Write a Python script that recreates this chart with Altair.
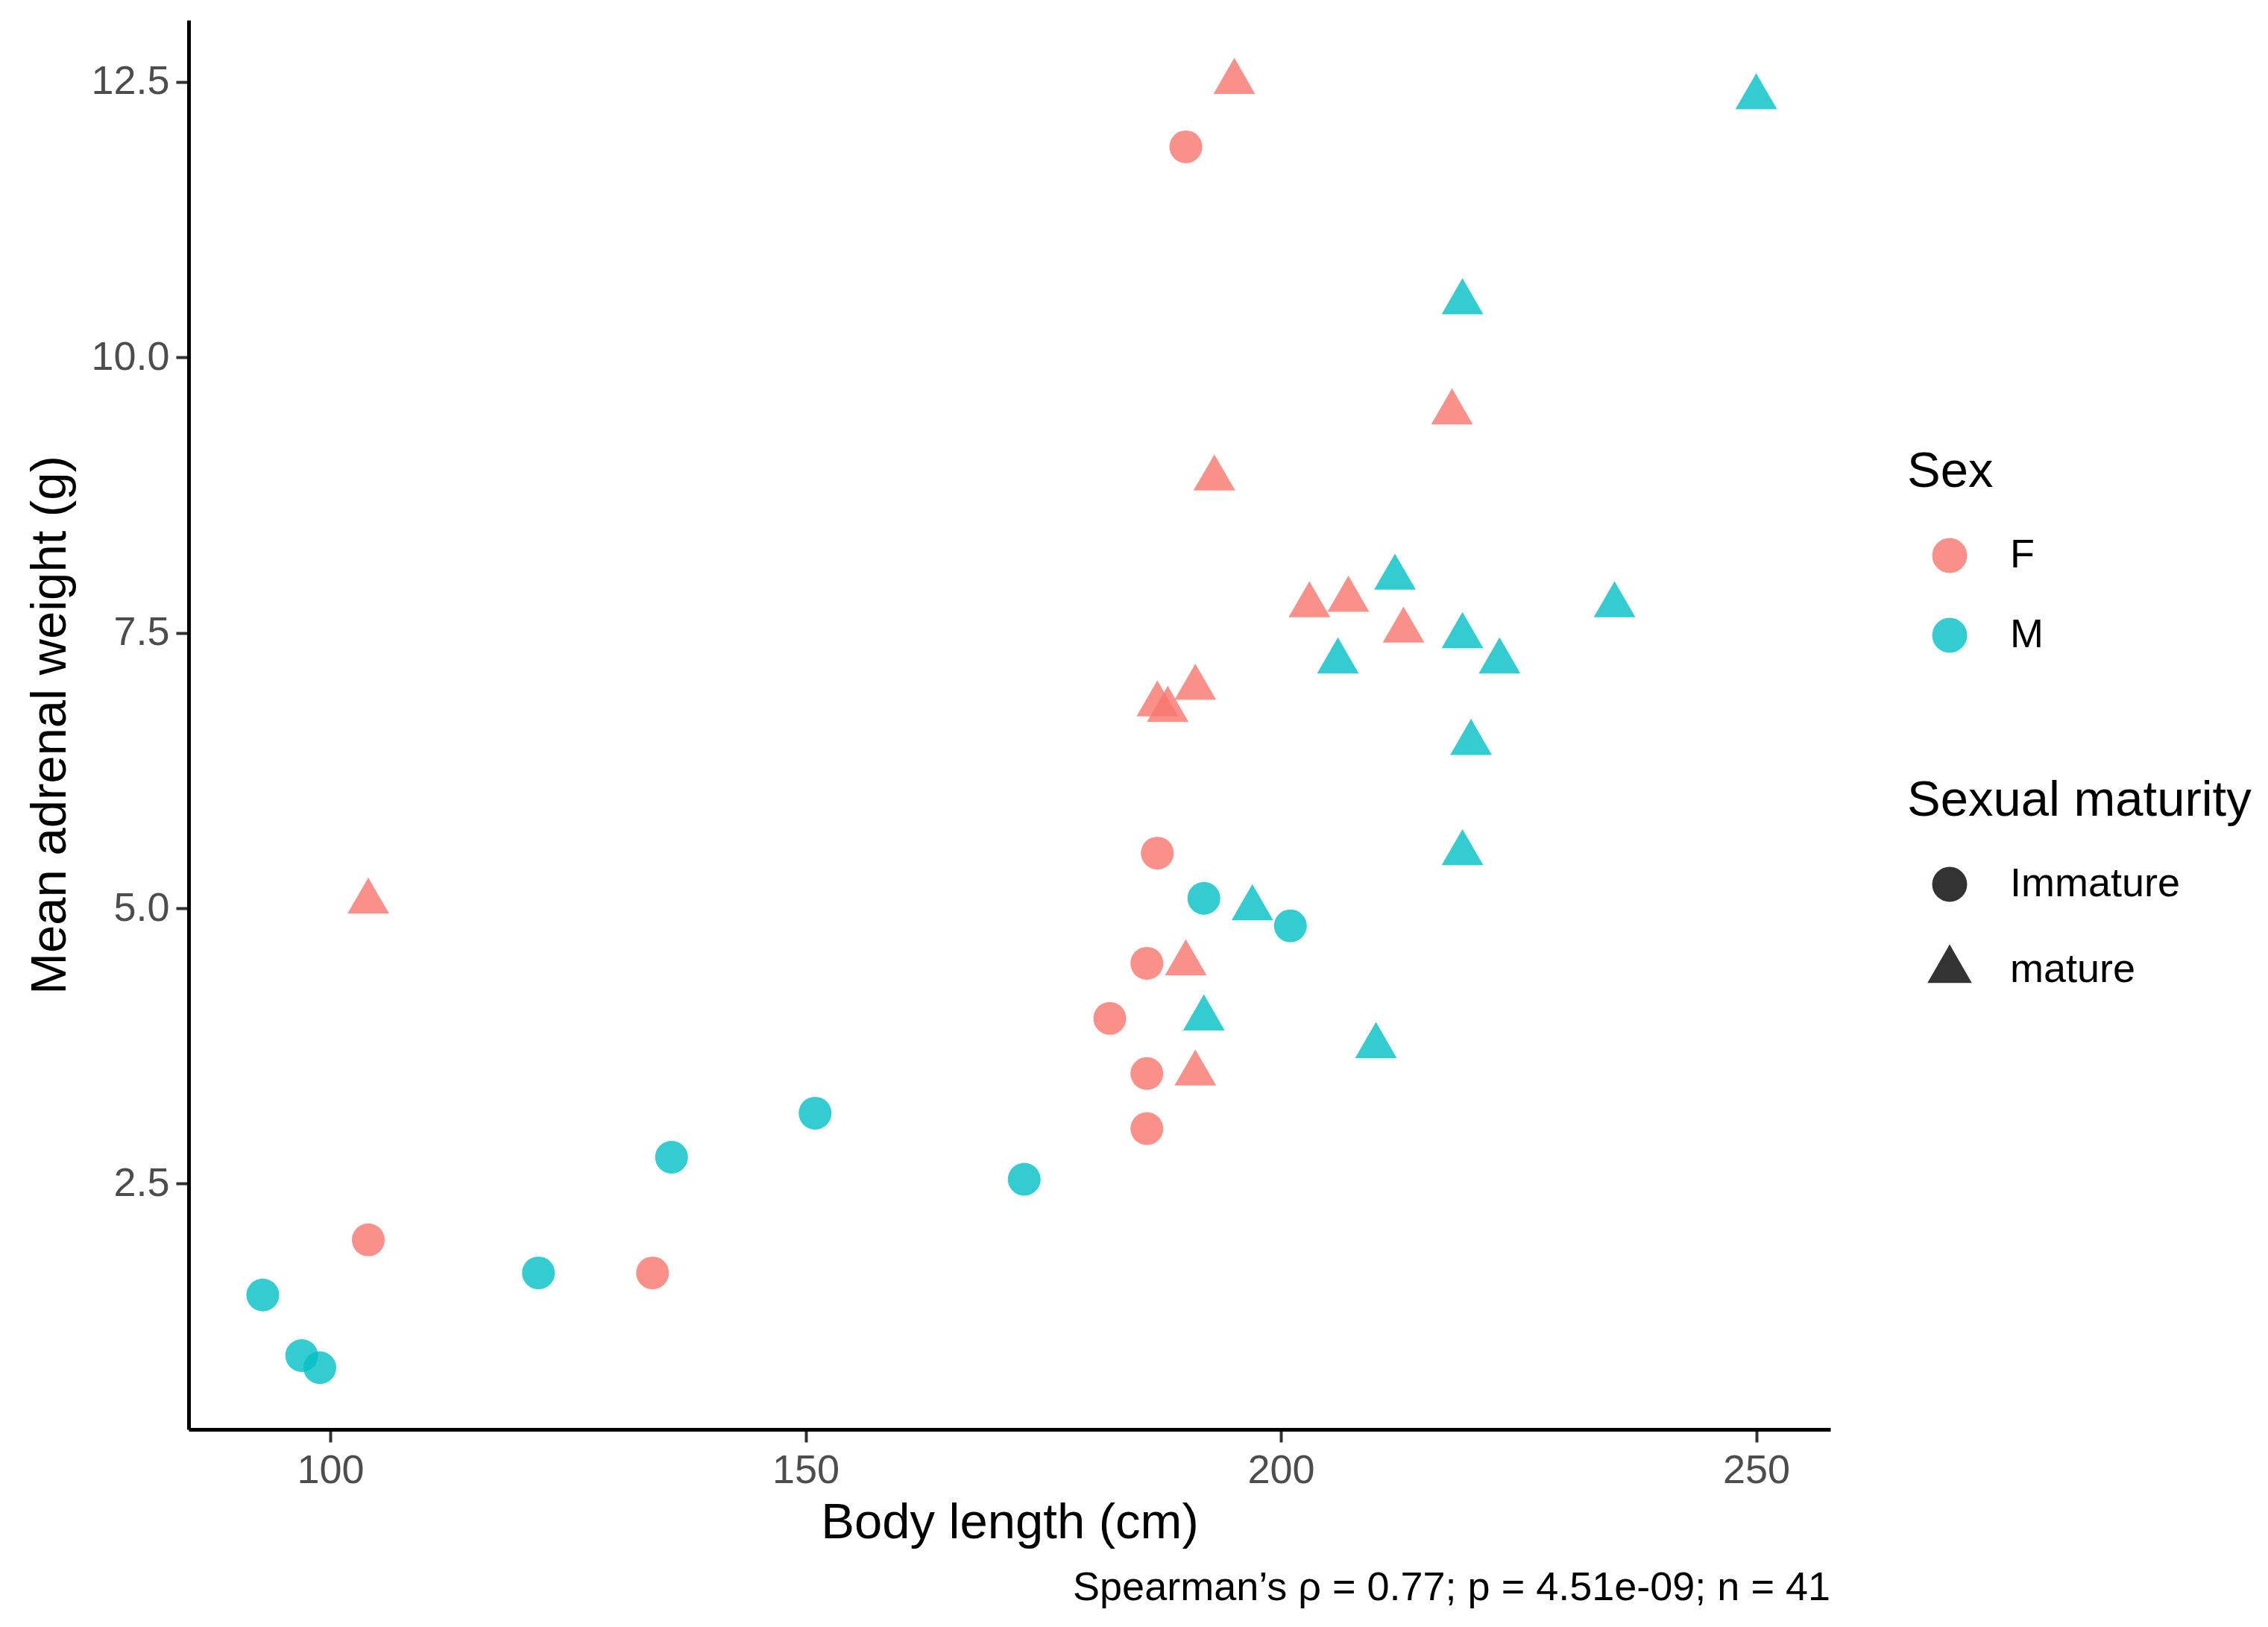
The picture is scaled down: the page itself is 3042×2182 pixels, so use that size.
import altair as alt
import pandas as pd

# Data
body_length = [
    190.0, 187.0, 185.9, 182.0, 185.9, 185.9, 104.0, 133.9,
    195.1, 218.0, 193.0, 203.0, 207.1, 212.9, 191.0, 187.0, 188.1, 104.0, 190.0, 191.0,
    191.9, 201.0, 151.0, 135.9, 173.0, 121.9, 92.9, 97.0, 98.9,
    250.0, 219.1, 212.0, 235.1, 219.1, 206.0, 223.0, 220.0, 219.1, 197.0, 191.9, 210.0,
]
adrenal_weight = [
    11.91, 5.50, 4.50, 4.00, 3.50, 3.00, 1.99, 1.69,
    12.50, 9.50, 8.90, 7.75, 7.80, 7.52, 7.00, 6.85, 6.80, 5.06, 4.50, 3.50,
    5.09, 4.84, 3.14, 2.74, 2.54, 1.69, 1.49, 0.94, 0.83,
    12.36, 10.50, 8.00, 7.75, 7.47, 7.24, 7.24, 6.50, 5.50, 5.00, 4.00, 3.75,
]
sex = ["F"] * 20 + ["M"] * 21
maturity = (["Immature"] * 8 + ["mature"] * 12 + ["Immature"] * 9 + ["mature"] * 12)

sex_levels = ["F", "M"]
sex_colors = ["#F8766D", "#00BFC4"]
maturity_levels = ["Immature", "mature"]
x_ticks = [100, 150, 200, 250]
y_ticks = [2.5, 5.0, 7.5, 10.0, 12.5]
caption = "Spearman\u2019s \u03c1 = 0.77; p = 4.51e-09; n = 41"

df = pd.DataFrame({
    "body_length": body_length,
    "adrenal_weight": adrenal_weight,
    "sex": sex,
    "maturity": maturity,
})

FONT = "Liberation Sans"
tri = "M0,-1.467L-1.27,0.733L1.27,0.733Z"

legend_common = dict(
    orient="none",
    legendX=2305,
    titleFontSize=67,
    titleFontWeight="normal",
    titleColor="black",
    titleFont=FONT,
    titlePadding=51,
    titleLimit=2000,
    labelFontSize=54,
    labelFont=FONT,
    labelColor="black",
    labelOffset=54,
    labelLimit=2000,
    symbolOffset=30,
    symbolSize=2200,
    symbolStrokeWidth=0,
    symbolOpacity=0.8,
    rowPadding=53,
    padding=0,
)

chart = alt.Chart(df).mark_point(
    filled=True, opacity=0.8, size=1936, strokeWidth=0
).encode(
    x=alt.X(
        "body_length:Q",
        title="Body length (cm)",
        scale=alt.Scale(domain=[85.1, 257.8], nice=False, zero=False),
        axis=alt.Axis(values=x_ticks, format="d", labelPadding=11, titlePadding=10),
    ),
    y=alt.Y(
        "adrenal_weight:Q",
        title="Mean adrenal weight (g)",
        scale=alt.Scale(domain=[0.27, 13.06], nice=False, zero=False),
        axis=alt.Axis(values=y_ticks, format=".1f", labelPadding=9, titlePadding=20),
    ),
    color=alt.Color(
        "sex:N",
        scale=alt.Scale(domain=sex_levels, range=sex_colors),
        legend=alt.Legend(title="Sex", legendY=573, symbolType="circle", **legend_common),
    ),
    shape=alt.Shape(
        "maturity:N",
        scale=alt.Scale(domain=maturity_levels, range=["circle", tri]),
        legend=alt.Legend(title="Sexual maturity", legendY=1014,
                          symbolFillColor="black", **legend_common),
    ),
).properties(
    width=2202,
    height=1890,
    padding={"top": 19, "left": 25, "right": 5, "bottom": 5},
    title=alt.TitleParams(
        caption,
        orient="bottom",
        anchor="end",
        frame="group",
        fontSize=54,
        fontWeight="normal",
        color="black",
        font=FONT,
        offset=28,
    ),
).configure_view(
    stroke=None
).configure_axis(
    grid=False,
    domainColor="black",
    domainWidth=5,
    tickColor="#333333",
    tickWidth=4,
    tickSize=17,
    labelFont=FONT,
    labelFontSize=54,
    labelColor="#4D4D4D",
    titleFont=FONT,
    titleFontSize=67,
    titleFontWeight="normal",
    titleColor="black",
)

chart.save("out.html", embed_options={"renderer": "svg", "actions": False})
